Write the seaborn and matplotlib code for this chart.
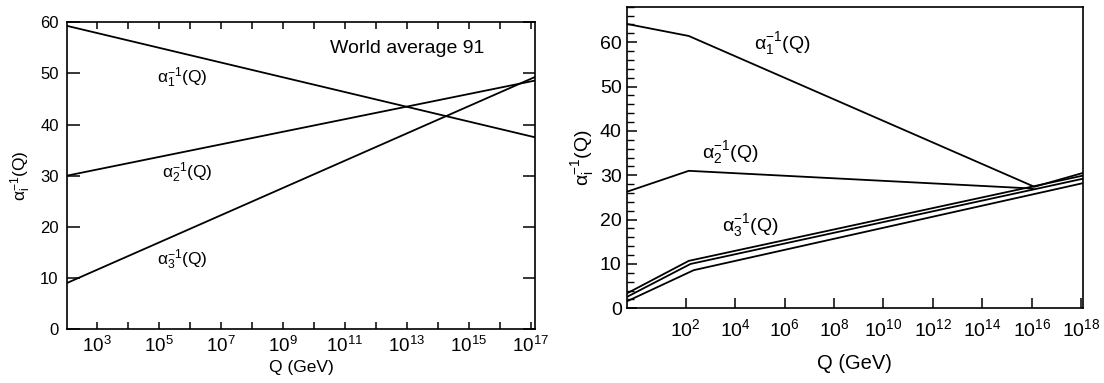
import numpy as np
import pandas as pd
import matplotlib
matplotlib.use("Agg")
import matplotlib.pyplot as plt
import seaborn as sns

# ---------------- data ----------------
# left panel: "World average 91" (x given as log10 Q / GeV)
left_a1_logq = [2.04, 17.14]
left_a1_val = [59.3, 37.5]
left_a2_logq = [2.04, 17.14]
left_a2_val = [30.0, 48.6]
left_a3_logq = [2.04, 17.14]
left_a3_val = [9.0, 49.3]

# right panel (MSSM-like running with a kink near 10^2 GeV)
right_a1_logq = [-0.36, 2.13, 16.1, 18.05]
right_a1_val = [64.1, 61.4, 27.4, 30.5]
right_a2_logq = [-0.36, 2.13, 16.05]
right_a2_val = [26.3, 31.0, 27.0]
right_a3_top_logq = [-0.36, 2.13, 18.05]
right_a3_top_val = [3.4, 10.7, 29.9]
right_a3_mid_logq = [-0.36, 2.2, 18.05]
right_a3_mid_val = [2.6, 10.0, 29.2]
right_a3_bot_logq = [-0.36, 2.33, 18.05]
right_a3_bot_val = [1.6, 8.6, 28.2]

left_xtick_exp = list(range(3, 18))
left_xlabel_exp = [3, 5, 7, 9, 11, 13, 15, 17]
left_yticks = [0, 10, 20, 30, 40, 50, 60]
right_xtick_exp = [2, 4, 6, 8, 10, 12, 14, 16, 18]
right_yticks = [0, 10, 20, 30, 40, 50, 60]
right_yminor = list(range(0, 69, 2))

label_a1 = r'$\mathrm{\alpha}_{1}^{-1}$(Q)'
label_a2 = r'$\mathrm{\alpha}_{2}^{-1}$(Q)'
label_a3 = r'$\mathrm{\alpha}_{3}^{-1}$(Q)'
ylabel = r'$\mathrm{\alpha}_{\mathrm{i}}^{-1}$(Q)'
xlabel = 'Q (GeV)'
title_left = 'World average 91'

# ---------------- style ----------------
sns.set_style("ticks")
plt.rcParams['font.family'] = ['Liberation Sans', 'DejaVu Sans']
plt.rcParams['mathtext.fontset'] = 'custom'
plt.rcParams['mathtext.rm'] = 'Liberation Sans'
plt.rcParams['mathtext.it'] = 'Liberation Sans:italic'
plt.rcParams['mathtext.bf'] = 'Liberation Sans:bold'
plt.rcParams['axes.linewidth'] = 1.2
for key in ['text.color', 'axes.labelcolor', 'xtick.color', 'ytick.color',
            'axes.edgecolor']:
    plt.rcParams[key] = 'black'

fig = plt.figure(figsize=(11.04, 3.83), dpi=100)
axL = fig.add_axes([0.0607, 0.141, 0.4239, 0.8008])
axR = fig.add_axes([0.5681, 0.195, 0.4125, 0.7875])


def draw(ax, logq, vals):
    df = pd.DataFrame({"Q": np.power(10.0, np.array(logq)), "v": vals})
    sns.lineplot(data=df, x="Q", y="v", ax=ax, color="black", lw=1.3,
                 estimator=None, sort=False)


# ---------------- left panel ----------------
for lq, v in [(left_a1_logq, left_a1_val), (left_a2_logq, left_a2_val),
              (left_a3_logq, left_a3_val)]:
    draw(axL, lq, v)
axL.set_xscale("log")
axL.set_xlim(10 ** 2.04, 10 ** 17.14)
axL.set_ylim(0, 60)
axL.set_xticks([10.0 ** e for e in left_xtick_exp])
axL.set_xticklabels([(r'$10^{%d}$' % e) if e in left_xlabel_exp else ''
                     for e in left_xtick_exp])
axL.xaxis.set_minor_locator(matplotlib.ticker.NullLocator())
axL.set_yticks(left_yticks)
axL.tick_params(axis='x', which='major', direction='in', top=True, bottom=True,
                length=5, width=1.1, labelsize=13.5, pad=5)
axL.tick_params(axis='y', which='major', direction='in', left=True, right=True,
                length=9, width=1.1, labelsize=12, pad=6)
axL.set_xlabel(xlabel, fontsize=12.5, labelpad=3)
axL.set_ylabel(ylabel, fontsize=12.5, labelpad=5)
axL.text(0.247, 0.818, label_a1, transform=axL.transAxes, ha='center', va='center', fontsize=12.5)
axL.text(0.258, 0.508, label_a2, transform=axL.transAxes, ha='center', va='center', fontsize=12.5)
axL.text(0.247, 0.225, label_a3, transform=axL.transAxes, ha='center', va='center', fontsize=12.5)
axL.text(0.727, 0.916, title_left, transform=axL.transAxes, ha='center', va='center', fontsize=14)

# ---------------- right panel ----------------
for lq, v in [(right_a1_logq, right_a1_val), (right_a2_logq, right_a2_val),
              (right_a3_top_logq, right_a3_top_val),
              (right_a3_mid_logq, right_a3_mid_val),
              (right_a3_bot_logq, right_a3_bot_val)]:
    draw(axR, lq, v)
axR.set_xscale("log")
axR.set_xlim(10 ** -0.36, 10 ** 18.05)
axR.set_ylim(0, 68)
axR.set_xticks([10.0 ** e for e in right_xtick_exp])
axR.set_xticklabels([r'$10^{%d}$' % e for e in right_xtick_exp])
axR.xaxis.set_minor_locator(matplotlib.ticker.NullLocator())
axR.set_yticks(right_yticks)
axR.set_yticks(right_yminor, minor=True)
axR.tick_params(axis='x', which='major', direction='in', top=False, bottom=True,
                length=7, width=1.1, labelsize=14, pad=7)
axR.tick_params(axis='y', which='major', direction='in', left=True, right=False,
                length=7, width=1.1, labelsize=14, pad=4)
axR.tick_params(axis='y', which='minor', direction='in', left=True, right=False,
                length=5, width=1.0)
axR.set_xlabel(xlabel, fontsize=14.5, labelpad=10)
axR.set_ylabel(ylabel, fontsize=14, labelpad=3)
axR.text(0.340, 0.878, label_a1, transform=axR.transAxes, ha='center', va='center', fontsize=14)
axR.text(0.226, 0.517, label_a2, transform=axR.transAxes, ha='center', va='center', fontsize=14)
axR.text(0.270, 0.274, label_a3, transform=axR.transAxes, ha='center', va='center', fontsize=14)

for ax in (axL, axR):
    for s in ax.spines.values():
        s.set_visible(True)
        s.set_linewidth(1.2)
        s.set_color('black')

fig.savefig("out.png", dpi=100)
